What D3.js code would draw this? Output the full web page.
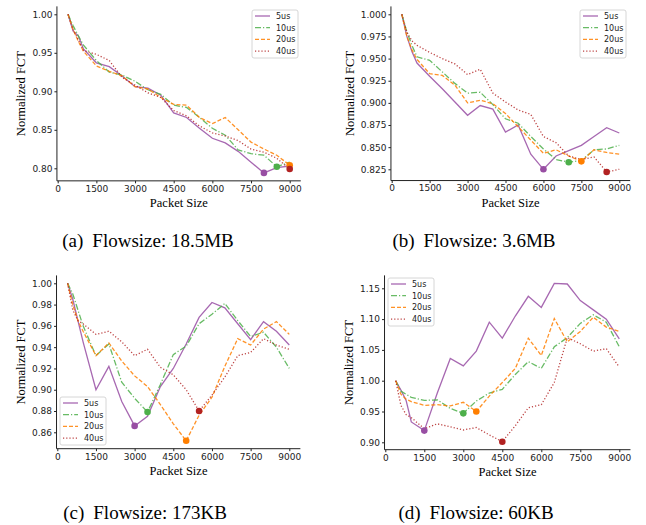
<!DOCTYPE html>
<html>
<head>
<meta charset="utf-8">
<script src="https://cdn.jsdelivr.net/npm/d3@7"></script>
<style>
  body { margin: 0; background: #fff; }
  svg { display: block; }
</style>
</head>
<body>
<svg id="fig" width="646" height="525"></svg>
<script>
// packet sizes on the x axis
var packetSizes = [400, 600, 800, 1000, 1500, 2000, 2500, 3000, 3500, 4000,
  4500, 5000, 5500, 6000, 6500, 7000, 7500, 8000, 8500, 9000];
var seriesNames = ["5us", "10us", "20us", "40us"];
var xTicks = [0, 1500, 3000, 4500, 6000, 7500, 9000];

// (a) Flowsize 18.5MB
var a5us  = [1.0, 0.978, 0.972, 0.955, 0.937, 0.932, 0.920, 0.906, 0.904, 0.895, 0.872, 0.866, 0.852, 0.839, 0.833, 0.822, 0.808, 0.794, 0.801, 0.803];
var a10us = [1.0, 0.985, 0.972, 0.960, 0.940, 0.925, 0.921, 0.913, 0.902, 0.896, 0.882, 0.879, 0.866, 0.852, 0.843, 0.824, 0.819, 0.817, 0.802, 0.808];
var a20us = [1.0, 0.980, 0.965, 0.952, 0.933, 0.926, 0.920, 0.906, 0.903, 0.892, 0.883, 0.882, 0.866, 0.858, 0.866, 0.850, 0.834, 0.825, 0.817, 0.804];
var a40us = [1.0, 0.980, 0.967, 0.953, 0.948, 0.940, 0.918, 0.908, 0.898, 0.892, 0.875, 0.868, 0.855, 0.846, 0.842, 0.836, 0.825, 0.821, 0.813, 0.799];

// (b) Flowsize 3.6MB
var b5us  = [1.0, 0.975, 0.958, 0.945, 0.930, 0.916, 0.901, 0.886, 0.897, 0.893, 0.867, 0.875, 0.842, 0.825, 0.840, 0.846, 0.852, 0.862, 0.872, 0.866];
var b10us = [1.0, 0.980, 0.965, 0.952, 0.948, 0.935, 0.922, 0.911, 0.912, 0.898, 0.882, 0.877, 0.862, 0.848, 0.836, 0.833, 0.835, 0.847, 0.848, 0.852];
var b20us = [1.0, 0.975, 0.960, 0.949, 0.933, 0.931, 0.920, 0.900, 0.903, 0.899, 0.888, 0.873, 0.858, 0.843, 0.847, 0.840, 0.834, 0.847, 0.844, 0.842];
var b40us = [1.0, 0.980, 0.970, 0.965, 0.957, 0.950, 0.944, 0.932, 0.938, 0.911, 0.901, 0.892, 0.887, 0.862, 0.855, 0.840, 0.836, 0.839, 0.822, 0.825];

// (c) Flowsize 173KB
var c5us  = [1.0, 0.985, 0.965, 0.945, 0.900, 0.922, 0.889, 0.866, 0.875, 0.903, 0.920, 0.943, 0.968, 0.982, 0.977, 0.962, 0.947, 0.964, 0.955, 0.942];
var c10us = [1.0, 0.990, 0.975, 0.960, 0.932, 0.943, 0.907, 0.892, 0.879, 0.905, 0.933, 0.941, 0.962, 0.971, 0.981, 0.965, 0.950, 0.954, 0.940, 0.920];
var c20us = [1.0, 0.980, 0.965, 0.955, 0.932, 0.944, 0.927, 0.913, 0.903, 0.886, 0.868, 0.852, 0.876, 0.893, 0.922, 0.948, 0.942, 0.957, 0.964, 0.952];
var c40us = [1.0, 0.975, 0.965, 0.962, 0.952, 0.955, 0.945, 0.932, 0.938, 0.921, 0.914, 0.900, 0.880, 0.895, 0.912, 0.932, 0.935, 0.948, 0.942, 0.938];

// (d) Flowsize 60KB
var d5us  = [1.0, 0.985, 0.968, 0.933, 0.919, 0.980, 1.036, 1.024, 1.048, 1.095, 1.069, 1.105, 1.137, 1.119, 1.158, 1.157, 1.130, 1.115, 1.100, 1.068];
var d10us = [1.0, 0.983, 0.978, 0.973, 0.968, 0.969, 0.955, 0.947, 0.967, 0.980, 0.986, 1.010, 1.031, 1.020, 1.055, 1.070, 1.093, 1.107, 1.095, 1.055];
var d20us = [1.0, 0.978, 0.970, 0.966, 0.960, 0.961, 0.959, 0.965, 0.950, 0.975, 0.997, 1.020, 1.069, 1.041, 1.101, 1.063, 1.080, 1.103, 1.087, 1.080];
var d40us = [1.0, 0.960, 0.945, 0.940, 0.922, 0.930, 0.925, 0.920, 0.924, 0.912, 0.901, 0.927, 0.956, 0.961, 0.997, 1.070, 1.060, 1.048, 1.052, 1.022];

var yTicksA = [0.80, 0.85, 0.90, 0.95, 1.00];
var yTicksB = [0.825, 0.850, 0.875, 0.900, 0.925, 0.950, 0.975, 1.000];
var yTicksC = [0.86, 0.88, 0.90, 0.92, 0.94, 0.96, 0.98, 1.00];
var yTicksD = [0.90, 0.95, 1.00, 1.05, 1.10, 1.15];

var colors = { "5us": "#984ea3", "10us": "#4daf4a", "20us": "#ff7f00", "40us": "#b22222" };
var dashes = { "5us": null, "10us": "6,2,1.2,2", "20us": "4,2", "40us": "1.2,2" };
var serif = "'Liberation Serif', 'Times New Roman', 'DejaVu Serif', serif";

// layout of each subplot: x scale from tick 0 / 9000, y scale from two ticks
var panels = [
  { series: [a5us, a10us, a20us, a40us], yTicks: yTicksA, fmt: ".2f",
    x0: 57.7, x1: 289.7, yv: [0.80, 1.00], yp: [168.3, 14.3], yLim: [0.7837, 1.0103],
    legend: [252, 10], caption: "Flowsize: 18.5MB", tag: "(a)", capX: 148, capY: 247, ylabX: 21 },
  { series: [b5us, b10us, b20us, b40us], yTicks: yTicksB, fmt: ".3f",
    x0: 391.7, x1: 619.3, yv: [0.825, 1.000], yp: [169.3, 14.3], yLim: [0.8123, 1.0089],
    legend: [580, 10], caption: "Flowsize: 3.6MB", tag: "(b)", capX: 474, capY: 247, ylabX: 350 },
  { series: [c5us, c10us, c20us, c40us], yTicks: yTicksC, fmt: ".2f",
    x0: 57.3, x1: 289.3, yv: [0.86, 1.00], yp: [432.3, 283.3], yLim: [0.8446, 1.0074],
    legend: [60, 397], caption: "Flowsize: 173KB", tag: "(c)", capX: 145, capY: 519, ylabX: 21 },
  { series: [d5us, d10us, d20us, d40us], yTicks: yTicksD, fmt: ".2f",
    x0: 385.3, x1: 619.3, yv: [0.90, 1.15], yp: [442.3, 288.3], yLim: [0.888, 1.171],
    legend: [388, 278], caption: "Flowsize: 60KB", tag: "(d)", capX: 476, capY: 519, ylabX: 349 }
];

var svg = d3.select("#fig");

panels.forEach(function (p) {
  var x = d3.scaleLinear().domain([0, 9000]).range([p.x0, p.x1]);
  var y = d3.scaleLinear().domain(p.yv).range(p.yp);
  var xl = x(-30), xr = x(9430);
  var yb = y(p.yLim[0]), yt = y(p.yLim[1]);
  var g = svg.append("g");

  // axes
  var xAxis = g.append("g")
    .attr("transform", "translate(0," + yb + ")")
    .call(d3.axisBottom(x).tickValues(xTicks).tickSize(2.5).tickPadding(2).tickFormat(d3.format("d")));
  xAxis.select(".domain").remove();
  g.append("line").attr("x1", xl).attr("x2", xr).attr("y1", yb).attr("y2", yb)
    .attr("stroke", "#222").attr("stroke-width", 1);

  var yAxis = g.append("g")
    .attr("transform", "translate(" + xl + ",0)")
    .call(d3.axisLeft(y).tickValues(p.yTicks).tickSize(2.5).tickPadding(2).tickFormat(d3.format(p.fmt)));
  yAxis.select(".domain").remove();
  g.append("line").attr("x1", xl).attr("x2", xl).attr("y1", yt).attr("y2", yb)
    .attr("stroke", "#222").attr("stroke-width", 1);

  g.selectAll(".tick text").attr("font-family", "DejaVu Sans").attr("font-size", 9).attr("fill", "#222");
  g.selectAll(".tick line").attr("stroke", "#222");

  // lines
  var line = d3.line().x(function (d, i) { return x(packetSizes[i]); }).y(function (d) { return y(d); });
  p.series.forEach(function (vals, k) {
    var name = seriesNames[k];
    g.append("path").attr("d", line(vals))
      .attr("fill", "none").attr("stroke", colors[name]).attr("stroke-width", 1.3)
      .attr("stroke-opacity", 0.85)
      .attr("stroke-dasharray", dashes[name]);
  });
  // marker at the minimum of each series
  p.series.forEach(function (vals, k) {
    var name = seriesNames[k];
    var i = d3.minIndex(vals);
    g.append("circle").attr("cx", x(packetSizes[i])).attr("cy", y(vals[i])).attr("r", 3.3)
      .attr("fill", colors[name]);
  });

  // legend
  var lg = g.append("g").attr("transform", "translate(" + p.legend[0] + "," + p.legend[1] + ")");
  lg.append("rect").attr("width", 46).attr("height", 48).attr("rx", 2)
    .attr("fill", "#fff").attr("fill-opacity", 0.8).attr("stroke", "#ccc").attr("stroke-width", 0.8);
  seriesNames.forEach(function (name, k) {
    var ry = 6 + k * 11.7;
    lg.append("line").attr("x1", 3).attr("x2", 18).attr("y1", ry).attr("y2", ry)
      .attr("stroke", colors[name]).attr("stroke-width", 1.3).attr("stroke-opacity", 0.85)
      .attr("stroke-dasharray", dashes[name]);
    lg.append("text").attr("x", 24).attr("y", ry).attr("dy", "0.35em")
      .attr("font-family", "DejaVu Sans").attr("font-size", 8).attr("fill", "#222").text(name);
  });

  // axis labels
  g.append("text").attr("x", (xl + xr) / 2).attr("y", yb + 26)
    .attr("text-anchor", "middle").attr("font-family", serif).attr("font-size", 12.5)
    .text("Packet Size");
  g.append("text").attr("transform", "translate(" + p.ylabX + "," + ((yt + yb) / 2) + ") rotate(-90)")
    .attr("text-anchor", "middle").attr("dy", "0.35em")
    .attr("font-family", serif).attr("font-size", 12.5)
    .text("Normalized FCT");

  // caption
  var cap = g.append("text").attr("x", p.capX).attr("y", p.capY)
    .attr("text-anchor", "middle").attr("font-family", serif).attr("font-size", 19);
  cap.append("tspan").text(p.tag);
  cap.append("tspan").attr("dx", 9).text(p.caption);
});
</script>
</body>
</html>
